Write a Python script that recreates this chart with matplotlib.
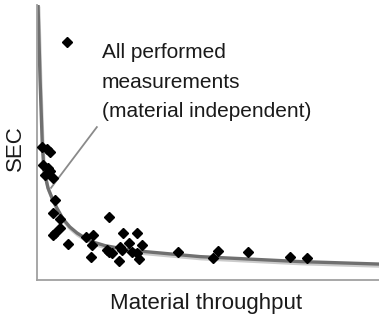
import matplotlib
matplotlib.use("Agg")
import matplotlib.pyplot as plt
import matplotlib.patheffects as pe

plt.rcParams['font.family'] = ['Liberation Sans', 'DejaVu Sans']

# Measurements (arbitrary units: throughput 0..100, SEC 0..100)
meas_x = [8.8, 1.5, 2.9, 3.8, 1.8, 3.2, 3.8, 2.3, 4.7, 5.3, 4.7, 6.7, 6.7, 5.3, 4.7, 9.1,
          21.1, 14.3, 16.4, 16.1, 15.8, 20.5, 21.9, 21.1, 24.0, 25.1, 29.2, 26.9, 24.3,
          24.9, 27.8, 30.7, 29.2, 29.8, 41.2, 52.9, 51.5, 61.7, 74.0, 78.9]
meas_y = [86.5, 48.4, 47.6, 46.5, 41.8, 40.7, 39.6, 38.2, 37.1, 29.1, 24.4, 22.2, 18.9, 17.1,
          16.4, 13.1, 22.9, 15.6, 16.4, 12.7, 8.4, 10.9, 9.8, 10.2, 6.9, 17.1, 17.1, 13.5,
          12.0, 10.9, 10.2, 12.7, 9.8, 7.6, 10.2, 10.5, 8.0, 10.2, 8.4, 8.0]

# Trend curve
curve_x = [0.3, 0.9, 1.5, 2.0, 3.2, 4.4, 5.8, 7.6, 9.6, 11.7, 14.0, 16.4, 19.9, 24.3,
           30.1, 38.9, 47.7, 62.3, 76.9, 100.0]
curve_y = [100.0, 72.7, 50.9, 40.0, 33.5, 29.8, 26.2, 22.2, 19.3, 17.1, 15.3, 13.8, 12.5,
           11.5, 10.5, 9.5, 8.5, 7.6, 6.7, 5.8]

label_lines = ["All performed", "measurements", "(material independent)"]
label_y = [82.6, 72.0, 61.2]
pointer_x = [4.1, 17.5]
pointer_y = [33.5, 55.6]

fig = plt.figure(figsize=(3.79, 3.2), dpi=100)
ax = fig.add_axes([37/379, 40/320, 342/379, 275/320])

ax.plot(curve_x, curve_y, color='#707070', lw=2.4, solid_capstyle='round',
        path_effects=[pe.SimpleLineShadow(offset=(0.5, -1.5), shadow_color='#999999', alpha=0.5),
                      pe.Normal()], zorder=2)
ax.plot(pointer_x, pointer_y, color='#8a8a8a', lw=1.3, zorder=2)
ax.plot(meas_x, meas_y, linestyle='none', marker='D', ms=5.2, color='black', zorder=3)

for t, y in zip(label_lines, label_y):
    ax.text(19.0, y, t, fontsize=15, color='#1a1a1a', va='center', ha='left')

ax.set_xlim(0, 100)
ax.set_ylim(0, 100)
for s in ['top', 'right']:
    ax.spines[s].set_visible(False)
for s in ['left', 'bottom']:
    ax.spines[s].set_color('#a0a0a0')
    ax.spines[s].set_linewidth(1.3)
ax.set_xticks([])
ax.set_yticks([])

fig.text(206/379, 1 - 304/320, "Material throughput", fontsize=16, color='#1a1a1a',
         ha='center', va='center')
fig.text(15/379, 1 - 148/320, "SEC", fontsize=16, color='#1a1a1a', rotation=90,
         ha='center', va='center')

fig.savefig("out.png", dpi=100)
